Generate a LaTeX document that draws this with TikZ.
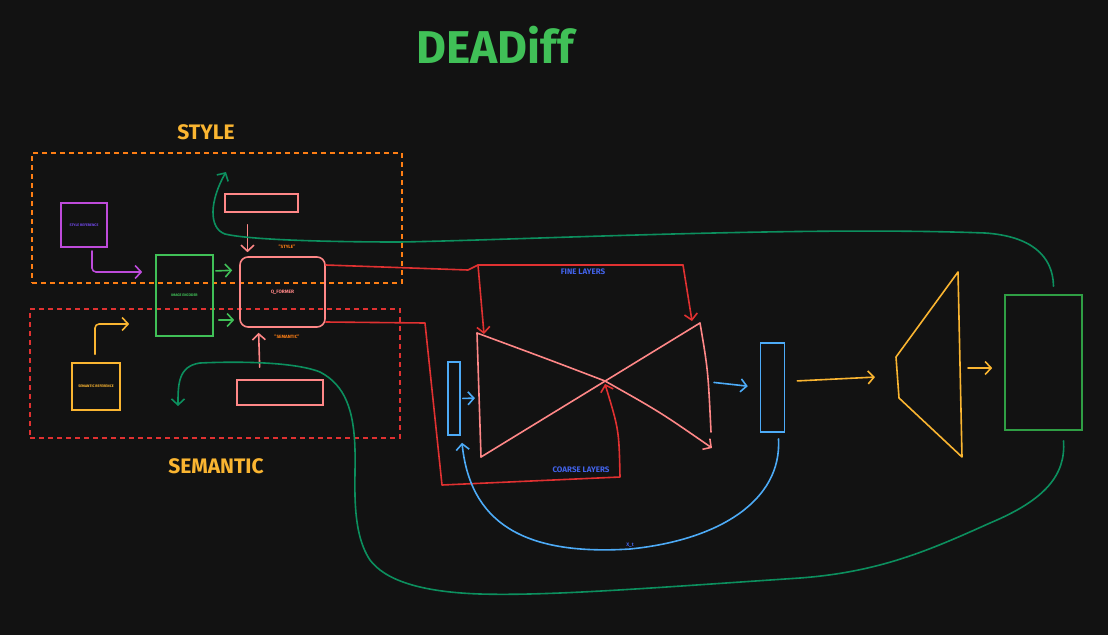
\documentclass[tikz,border=0pt]{standalone}
\usepackage{fontspec}
\setmainfont{Fira Sans}
\usetikzlibrary{arrows.meta}

\definecolor{bgdark}{HTML}{121212}
\definecolor{exgreen}{HTML}{40C057}
\definecolor{exdgreen}{HTML}{2F9E44}
\definecolor{exteal}{HTML}{0C8F5E}
\definecolor{expurple}{HTML}{BE4BDB}
\definecolor{exviolet}{HTML}{7048E8}
\definecolor{exorange}{HTML}{FD7E14}
\definecolor{exred}{HTML}{E03131}
\definecolor{expink}{HTML}{FF8787}
\definecolor{exyellow}{HTML}{FAB531}
\definecolor{exblue}{HTML}{4DABF7}
\definecolor{exindigo}{HTML}{4263EB}

\begin{document}
\begin{tikzpicture}[x=1pt, y=-1pt,
  box/.style={draw, line width=1.6pt, inner sep=0pt, align=center, font=\fontsize{3.6}{4.5}\selectfont\bfseries},
  region/.style={draw, line width=1.6pt, dash pattern=on 5pt off 4pt, minimum width=370pt, minimum height=130pt},
  heading/.style={font=\fontsize{21}{25}\selectfont\bfseries, text=exyellow},
  tag/.style={font=\fontsize{8}{10}\selectfont\bfseries, text=exindigo},
  quote/.style={font=\fontsize{4.6}{5.5}\selectfont\bfseries, text=exorange},
  line/.style={line width=1.6pt, line cap=round, line join=round},
  arrow/.style={line, -{Straight Barb[length=6pt,width=13pt]}}
]
\fill[bgdark] (0,0) rectangle (1108,635);
\useasboundingbox (0,0) rectangle (1108,635);

% titles
\node[font=\fontsize{46}{52}\selectfont\bfseries, text=exgreen] (title) at (495,45) {DEADiff};
\node[heading] (styletitle) at (206,132) {STYLE};
\node[heading] (semtitle) at (216,466) {SEMANTIC};

% dashed groups
\node[region, draw=exorange] (styleregion) at (217,218) {};
\node[region, draw=exred, minimum height=129pt] (semregion) at (215,373.5) {};

% encoder side
\node[box, draw=expurple, text=exviolet, minimum width=46, minimum height=44] (styleref) at (84,225) {STYLE REFERENCE};
\node[box, draw=exyellow, text=exyellow, minimum width=48, minimum height=47] (semref) at (96,386.5) {SEMANTIC REFERENCE};
\node[box, draw=exgreen, text=exgreen, minimum width=57, minimum height=81] (imgenc) at (184.5,295.5) {IMAGE ENCODER};
\node[box, draw=expink, text=expink, rounded corners=8pt, minimum width=85, minimum height=70,
  font=\fontsize{4.8}{6}\selectfont\bfseries] (qformer) at (282.5,292) {Q\_FORMER};
\node[quote] (stylequote) at (287,247) {"STYLE"};
\node[quote] (semquote) at (287,337) {"SEMANTIC"};
\node[box, draw=expink, minimum width=73, minimum height=18] (styletok) at (261.5,203) {};
\node[box, draw=expink, minimum width=86, minimum height=25] (semtok) at (280,392.5) {};

% unet
\coordinate (ul) at (477,333);
\coordinate (ll) at (481,457);
\coordinate (ur) at (700,323);
\coordinate (lr) at (712,448);
\coordinate (rb) at (711,432);
\coordinate (unetmid) at (605,384);
\coordinate (unetw) at (479,398);
\coordinate (unete) at (710,382);
\coordinate (finenw) at (478,265);
\coordinate (finene) at (683,265);
\node[tag] (fine) at (583,272) {FINE LAYERS};
\node[tag] (coarse) at (581,470) {COARSE LAYERS};

\node[box, draw=exblue, minimum width=12, minimum height=73] (noisein) at (454,398.5) {};
\node[box, draw=exblue, minimum width=24, minimum height=89] (noiseout) at (772.5,387.5) {};
\node[font=\fontsize{5}{6}\selectfont\bfseries, text=exindigo] (xt) at (630,545) {X\_t};

% decoder and output
\coordinate (dec1) at (896,357);
\coordinate (dec2) at (958,272);
\coordinate (dec3) at (962,457);
\coordinate (dec4) at (899,398);
\coordinate (decw) at (897,376);
\coordinate (dece) at (962,368);
\node[box, draw=exdgreen, minimum width=77, minimum height=135] (output) at (1043.5,362.5) {};

% style / semantic feeds
\draw[arrow, expurple, rounded corners=4pt, shorten <=3pt, shorten >=13pt] ([xshift=8pt]styleref.south) |- ([yshift=23.5pt]imgenc.west);
\draw[arrow, exyellow, rounded corners=4pt, shorten <=8pt, shorten >=26pt] ([xshift=-1pt]semref.north) |- ([yshift=-28.5pt]imgenc.west);
\draw[arrow, exgreen, shorten <=2pt, shorten >=7pt] ([yshift=24.5pt]imgenc.east) -- ([yshift=22pt]qformer.west);
\draw[arrow, exgreen, shorten <=5pt, shorten >=5pt] ([yshift=-24.5pt]imgenc.east) -- ([yshift=-28pt]qformer.west);
\draw[arrow, expink, shorten <=12pt, shorten >=4pt] ([xshift=-14pt]styletok.south) -- ([xshift=-35pt]qformer.north);
\draw[arrow, expink, shorten <=12pt, shorten >=5pt] ([xshift=-20pt]semtok.north) -- ([xshift=-24pt]qformer.south);

% q-former into unet
\draw[line, exred] ([yshift=27pt]qformer.east) -- (468,270) -- (finenw) -- (finene);
\draw[arrow, exred] (finenw) -- ([xshift=7pt,yshift=-1pt]ul);
\draw[arrow, exred] (finene) -- ([xshift=-8pt,yshift=2pt]ur);
\draw[arrow, exred] ([yshift=-30pt]qformer.east) -- (425,323) -- (442,485) -- (620,477) .. controls (619,430) .. (unetmid);

\draw[line, expink] (ul) -- (ll);
\draw[line, expink] (ll) -- (ur);
\draw[line, expink] (ur) .. controls (708,370) .. (rb);
\draw[arrow, expink] (ul) .. controls (550,360) .. (605,381) .. controls (660,412) .. (lr);

% noise path
\draw[arrow, exblue, shorten <=2pt, shorten >=4pt] (noisein.east) -- (unetw);
\draw[arrow, exblue, shorten <=4pt, shorten >=12pt] (unete) -- (noiseout.west);
\draw[arrow, exblue] ([xshift=6pt,yshift=-6pt]noiseout.south) .. controls (782,500) and (720,540) .. (630,549)
  .. controls (520,556) and (470,520) .. ([xshift=8pt,yshift=-7pt]noisein.south);

% decoder
\draw[arrow, exyellow, shorten <=12pt, shorten >=22pt] ([yshift=6pt]noiseout.east) -- (decw);
\draw[line, exyellow] (dec1) -- (dec2) -- (dec3) -- (dec4) -- cycle;
\draw[arrow, exyellow, shorten <=6pt, shorten >=12pt] (dece) -- ([yshift=-5.5pt]output.west);

% feedback loops
\coordinate (stylefb) at (226,172);
\coordinate (semfb) at (178,406);
\draw[arrow, exteal] ([xshift=10pt,yshift=8pt]output.north) .. controls (1053,255) and (1030,236) .. (985,233)
  .. controls (800,226) and (520,240) .. (400,242)
  .. controls (330,242) and (250,240) .. (225,234)
  .. controls (208,228) and (210,200) .. (stylefb);
\draw[arrow, exteal] ([xshift=20pt,yshift=-10pt]output.south) .. controls (1066,475) and (1045,500) .. (990,523)
  .. controls (930,550) and (880,572) .. (800,578)
  .. controls (650,588) and (550,596) .. (480,594)
  .. controls (420,592) and (385,580) .. (370,560)
  .. controls (350,530) and (356,480) .. (355,450)
  .. controls (354,410) and (345,385) .. (320,372)
  .. controls (290,360) and (220,362) .. (200,363)
  .. controls (178,366) and (178,385) .. (semfb);
\end{tikzpicture}
\end{document}
